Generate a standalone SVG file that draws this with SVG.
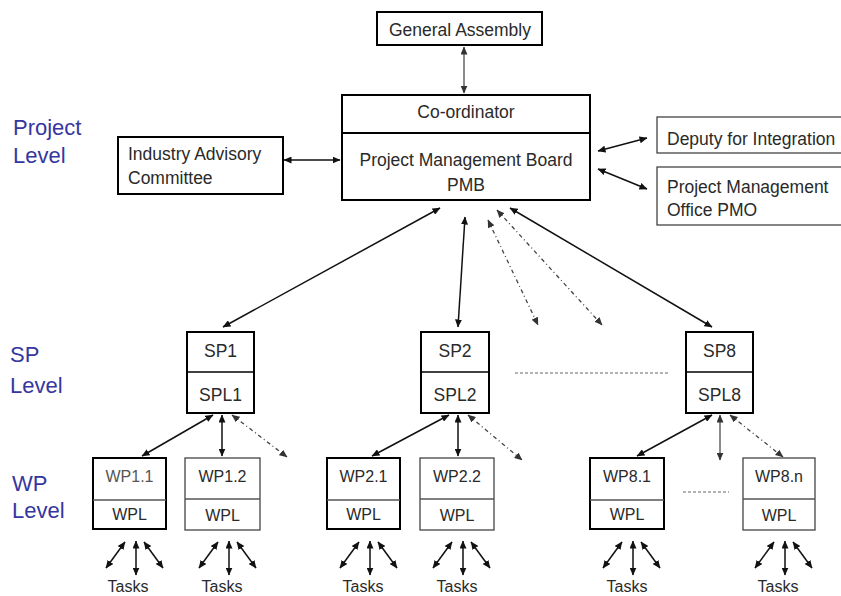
<svg xmlns="http://www.w3.org/2000/svg" width="841" height="596" viewBox="0 0 841 596">
<defs>
<marker id="ah" viewBox="0 0 8 7" refX="7.5" refY="3.5" markerWidth="8" markerHeight="7" markerUnits="userSpaceOnUse" orient="auto-start-reverse"><path d="M0,0 L8,3.5 L0,7 z" fill="#111"/></marker>
<marker id="ahg" viewBox="0 0 8 7" refX="7.5" refY="3.5" markerWidth="8" markerHeight="7" markerUnits="userSpaceOnUse" orient="auto-start-reverse"><path d="M0,0 L8,3.5 L0,7 z" fill="#333"/></marker>
</defs>
<style>
text{font-family:"Liberation Sans",Arial,sans-serif;fill:#2a2a2a}
.t{font-size:17.5px;text-anchor:middle}
.tl{font-size:17.5px}
.w{font-size:16px;text-anchor:middle}
.k{font-size:16px;text-anchor:middle}
.lv{font-size:22px;fill:#3636a0}
.b{fill:#fff;stroke:#000;stroke-width:2}
.bt{fill:#fff;stroke:#444;stroke-width:1.3}
.dv{stroke:#555;stroke-width:1.3}
.c{fill:none;stroke:#111;stroke-width:1.5;marker-start:url(#ah);marker-end:url(#ah)}
.cg{fill:none;stroke:#666;stroke-width:1.5;marker-start:url(#ahg);marker-end:url(#ahg)}
.d{fill:none;stroke:#444;stroke-width:1.3;stroke-dasharray:4 3 1 3;marker-start:url(#ahg);marker-end:url(#ahg)}
.dl{fill:none;stroke:#666;stroke-width:1.2;stroke-dasharray:3 2}
</style>
<rect width="841" height="596" fill="#fff"/>

<g id="labels">
<text class="lv" x="13" y="135">Project</text>
<text class="lv" x="13" y="163">Level</text>
<text class="lv" x="10" y="362">SP</text>
<text class="lv" x="10" y="393">Level</text>
<text class="lv" x="12" y="491">WP</text>
<text class="lv" x="12" y="518">Level</text>
</g>

<g id="connectors">
<line class="cg" x1="464" y1="47" x2="464" y2="93"/>
<line class="c" x1="284" y1="160" x2="340" y2="160"/>
<line class="c" x1="598" y1="151" x2="647" y2="138"/>
<line class="c" x1="598" y1="169" x2="647" y2="189"/>
<line class="c" x1="440" y1="208" x2="223" y2="327"/>
<line class="c" x1="465" y1="217" x2="458" y2="327"/>
<line class="d" x1="488" y1="220" x2="538" y2="325"/>
<line class="d" x1="497" y1="210" x2="602" y2="325"/>
<line class="c" x1="510" y1="208" x2="712" y2="327"/>
<line class="dl" x1="515" y1="373" x2="668" y2="373"/>
<line class="dl" x1="683" y1="492" x2="729" y2="492"/>

<line class="c" x1="213" y1="415" x2="142" y2="456"/>
<line class="c" x1="222" y1="415" x2="222" y2="456"/>
<line class="d" x1="232" y1="415" x2="287" y2="457"/>
<line class="c" x1="449" y1="415" x2="372" y2="456"/>
<line class="c" x1="458" y1="415" x2="458" y2="456"/>
<line class="d" x1="468" y1="415" x2="522" y2="460"/>
<line class="c" x1="712" y1="415" x2="637" y2="456"/>
<line class="cg" x1="720" y1="415" x2="720" y2="460"/>
<line class="d" x1="730" y1="415" x2="783" y2="457"/>

<g id="tasks-arrows">
<g transform="translate(136,0)"><line class="c" x1="-11" y1="542" x2="-30" y2="568"/><line class="c" x1="0" y1="541" x2="0" y2="575"/><line class="c" x1="8" y1="542" x2="27" y2="568"/></g>
<g transform="translate(229,0)"><line class="c" x1="-11" y1="542" x2="-30" y2="568"/><line class="c" x1="0" y1="541" x2="0" y2="575"/><line class="c" x1="8" y1="542" x2="27" y2="568"/></g>
<g transform="translate(370,0)"><line class="c" x1="-11" y1="542" x2="-30" y2="568"/><line class="c" x1="0" y1="541" x2="0" y2="575"/><line class="c" x1="8" y1="542" x2="27" y2="568"/></g>
<g transform="translate(463,0)"><line class="c" x1="-11" y1="542" x2="-30" y2="568"/><line class="c" x1="0" y1="541" x2="0" y2="575"/><line class="c" x1="8" y1="542" x2="27" y2="568"/></g>
<g transform="translate(633,0)"><line class="c" x1="-11" y1="542" x2="-30" y2="568"/><line class="c" x1="0" y1="541" x2="0" y2="575"/><line class="c" x1="8" y1="542" x2="27" y2="568"/></g>
<g transform="translate(785,0)"><line class="c" x1="-11" y1="542" x2="-30" y2="568"/><line class="c" x1="0" y1="541" x2="0" y2="575"/><line class="c" x1="8" y1="542" x2="27" y2="568"/></g>
</g>
</g>

<g id="general-assembly">
<rect class="b" x="377" y="12" width="165" height="33"/>
<text class="t" x="460" y="36">General Assembly</text>
</g>

<g id="coordinator-pmb">
<rect class="b" x="342" y="95" width="248" height="105"/>
<line x1="342" y1="133" x2="590" y2="133" stroke="#000" stroke-width="2"/>
<text class="t" x="466" y="118">Co-ordinator</text>
<text class="t" x="466" y="166">Project Management Board</text>
<text class="t" x="466" y="191">PMB</text>
</g>

<g id="industry-advisory">
<rect class="b" x="118" y="137" width="165" height="57"/>
<text class="tl" x="128" y="160">Industry Advisory</text>
<text class="tl" x="128" y="184">Committee</text>
</g>

<g id="deputy">
<rect class="bt" x="657" y="117" width="190" height="36"/>
<text class="tl" x="667" y="145">Deputy for Integration</text>
</g>

<g id="pmo">
<rect class="bt" x="657" y="167" width="190" height="58"/>
<text class="tl" x="667" y="193">Project Management</text>
<text class="tl" x="667" y="216">Office PMO</text>
</g>

<g id="sp1">
<rect class="b" x="187" y="332" width="67" height="81"/>
<line x1="187" y1="372" x2="254" y2="372" stroke="#000" stroke-width="1.5"/>
<text class="t" x="220.5" y="357">SP1</text>
<text class="t" x="220.5" y="401">SPL1</text>
</g>
<g id="sp2">
<rect class="b" x="421" y="332" width="68" height="81"/>
<line x1="421" y1="372" x2="489" y2="372" stroke="#000" stroke-width="1.5"/>
<text class="t" x="455" y="357">SP2</text>
<text class="t" x="455" y="401">SPL2</text>
</g>
<g id="sp8">
<rect class="b" x="686" y="332" width="67" height="81"/>
<line x1="686" y1="372" x2="753" y2="372" stroke="#000" stroke-width="1.5"/>
<text class="t" x="719.5" y="357">SP8</text>
<text class="t" x="719.5" y="401">SPL8</text>
</g>

<g id="wp1-1">
<rect class="b" x="93" y="458" width="73" height="71"/>
<line class="dv" x1="93" y1="500" x2="166" y2="500"/>
<text class="w" x="129.5" y="482" style="fill:#555">WP1.1</text>
<text class="w" x="129.5" y="520">WPL</text>
</g>
<g id="wp1-2">
<rect class="bt" x="185" y="458" width="75" height="72"/>
<line class="dv" x1="185" y1="499" x2="260" y2="499"/>
<text class="w" x="222.5" y="482">WP1.2</text>
<text class="w" x="222.5" y="521">WPL</text>
</g>
<g id="wp2-1">
<rect class="b" x="327" y="458" width="73" height="71"/>
<line class="dv" x1="327" y1="500" x2="400" y2="500"/>
<text class="w" x="363.5" y="482">WP2.1</text>
<text class="w" x="363.5" y="520">WPL</text>
</g>
<g id="wp2-2">
<rect class="bt" x="420" y="458" width="74" height="72"/>
<line class="dv" x1="420" y1="499" x2="494" y2="499"/>
<text class="w" x="457" y="482">WP2.2</text>
<text class="w" x="457" y="521">WPL</text>
</g>
<g id="wp8-1">
<rect class="b" x="590" y="458" width="74" height="71"/>
<line class="dv" x1="590" y1="500" x2="664" y2="500"/>
<text class="w" x="627" y="482">WP8.1</text>
<text class="w" x="627" y="520">WPL</text>
</g>
<g id="wp8-n">
<rect class="bt" x="743" y="458" width="72" height="72"/>
<line class="dv" x1="743" y1="499" x2="815" y2="499"/>
<text class="w" x="779" y="482">WP8.n</text>
<text class="w" x="779" y="521">WPL</text>
</g>

<g id="tasks">
<text class="k" x="128" y="592">Tasks</text>
<text class="k" x="222" y="592">Tasks</text>
<text class="k" x="363" y="592">Tasks</text>
<text class="k" x="457" y="592">Tasks</text>
<text class="k" x="627" y="592">Tasks</text>
<text class="k" x="778" y="592">Tasks</text>
</g>
</svg>
